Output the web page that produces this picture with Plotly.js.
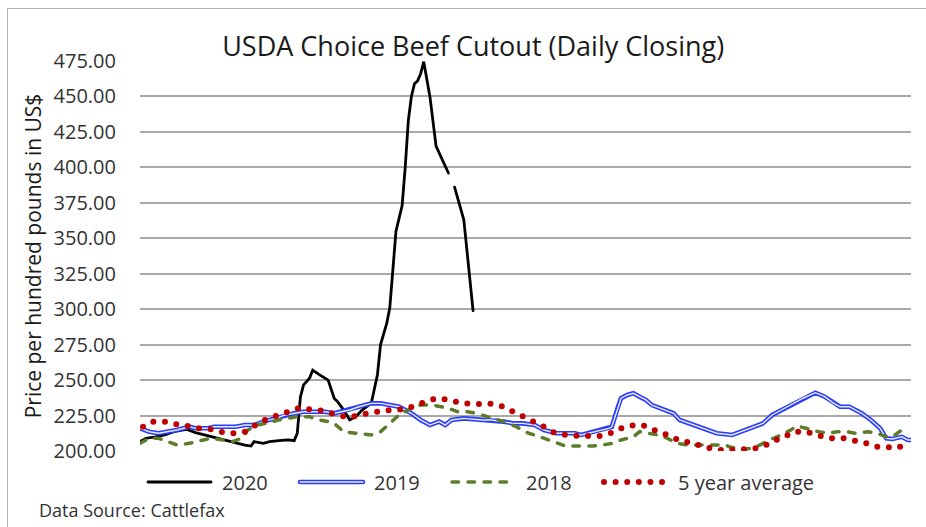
<!DOCTYPE html>
<html><head><meta charset="utf-8">
<script src="https://cdn.plot.ly/plotly-3.0.1.min.js"></script>
<style>
html,body{margin:0;padding:0;background:#fff;}
#wrap{position:relative;width:926px;height:527px;overflow:hidden;}
#chart{position:absolute;left:0;top:0;width:926px;height:527px;}
#frame{position:absolute;left:7px;top:8px;width:1000px;height:1000px;border:1.5px solid #b3b3b3;pointer-events:none;}
.scatterlayer path.js-line, .legendlines path {stroke-linecap: round !important;}
</style></head>
<body><div id="wrap"><div id="chart"></div><div id="frame"></div></div>
<script>
// Trading-day index within the year (x) and price (US$/cwt) per series
var days2020 = [0,2,5,8,11,15,18,21,24,28,31,34,36,37,40,42,45,48,50,51,52,53,55,56,58,60,61,63,64,66,68,70,72,75,76,77,78,79,80,81,82,83,84,85,86,87,88,89,90,91,92,93,94,96,98,100,101,102,105,108];
var vals2020 = [206.6,209,210,211.3,213.6,215.3,213,211.3,210,207.8,205.9,204.2,203.5,206.6,205.4,206.6,207.3,207.8,207.3,212.5,238,246.5,251.5,257,254,251.5,250,237,235,229,222,224.2,228.9,233.7,243,254,275,282,290,301,327,355,364,373,400,433,450,459,461,466,474.5,462,450,415,405,396,null,386,363,299];

var days2019 = [0,3,6,9,12,16,18,22,24,28,31,34,37,40,44,47,50,53,57,60,63,65,68,71,75,78,81,84,88,91,94,97,99,101,105,108,111,114,118,121,124,128,131,135,138,141,143,147,150,152,153,155,156,158,160,162,164,166,169,173,175,178,181,184,187,192,196,199,202,205,209,212,215,219,222,225,227,230,234,237,240,242,244,247,249,250];
var vals2019 = [216,213.6,212.5,213.6,214.8,217.1,216,216,217.1,217.1,217.1,218.3,218.3,220.7,223,225.4,226.6,227.7,227.7,227.7,226.6,227.7,228.9,231.2,233.6,233.6,232.4,231.2,226.6,221.9,218.3,220.7,218.3,221.9,223,222.4,221.9,221.9,220.7,219.5,219.5,218.3,214.8,212.5,212.5,212.5,211.3,213.6,214.8,216,217.1,231.2,237.2,239.5,240.7,238.3,236,232.4,230.1,226.6,221.9,219.5,217.1,214.8,212.5,211.3,214.8,217.1,219.5,225.4,230.1,233.6,237.2,241.1,238.3,233.6,231.2,231.2,226.6,221.9,216,208.9,208.5,210,207.8,207.8];

var days2018 = [0,3,6,9,12,16,20,23,27,30,33,35,38,42,45,48,51,55,57,61,63,66,70,75,78,81,84,88,91,95,100,103,106,109,113,118,122,126,128,131,135,138,142,147,150,153,156,160,162,165,168,171,174,178,181,185,190,191,195,198,201,204,208,211,213,216,220,223,226,229,232,236,239,242,244,247];
var vals2018 = [205.4,209,209,206.6,204.2,205.4,207.8,209,207.8,206.6,209,214.8,218.3,220,221.9,223,224.2,224.2,222.4,220.7,219.5,213.6,212.5,211.3,213.6,219.5,225.4,230.1,232.4,232.4,230.1,227.7,227.7,226.6,224.2,220.7,217.1,212.5,211.3,209,205.4,203.5,203.5,203.5,204.2,205.4,207.8,210,213.6,212.5,211.3,209,205.4,204.2,204.2,204.2,204.2,203,201.2,201.9,204.2,207.8,211.3,214.8,217.6,216,213.6,212.5,213.6,213.6,212.5,213.6,212.5,210,210,214.8];

var daysAvg = [1,4,8,11,15,19,23,26,30,34,38,41,45,48,52,56,59,63,68,71,75,79,82,86,90,94,97,101,105,109,113,117,120,124,127,131,134,138,142,146,149,153,157,161,164,168,172,175,179,183,186,190,194,198,202,205,209,212,216,220,223,228,231,235,239,242,246,249];
var valsAvg = [217.1,220.7,220.7,219,217.9,216,215.3,213.6,212.5,213.6,219,222.4,225.4,227.7,230.5,228.9,228.4,225.9,223.5,225.4,227.3,228.4,228.9,229.4,232.7,236,237.2,235.3,233.6,233.1,233.6,231.9,228.9,224.9,221.4,217.1,213.2,211.3,210.6,210,210.6,212.9,217.1,218.3,217.6,213.6,210.6,207.1,205.9,202.6,201.4,200.2,201.2,201.4,203,206.6,210,213.6,213.6,211.3,209,209,207.8,205.9,203,202.3,202.3,207.3];

var seriesNames = ['2020','2019','2018','5 year average'];
var yTicks = [200,225,250,275,300,325,350,375,400,425,450,475];
var yTickText = yTicks.map(function(v){ return v.toFixed(2); });

var FONT = 'Open Sans, Noto Sans, sans-serif';

var traces = [
  {x: days2020, y: vals2020, name: seriesNames[0], mode: 'lines', connectgaps: false,
   line: {color: '#000000', width: 2.8}},
  {x: days2019, y: vals2019, name: seriesNames[1], mode: 'lines',
   line: {color: '#2a3cf8', width: 4.6}},
  {x: days2019, y: vals2019, name: seriesNames[1] + ' inner', mode: 'lines', showlegend: false,
   line: {color: '#e6eaff', width: 1.4}},
  {x: days2018, y: vals2018, name: seriesNames[2], mode: 'lines',
   line: {color: '#5c7c2a', width: 3.5, dash: '6.5px,9.5px'}},
  {x: daysAvg, y: valsAvg, name: seriesNames[3], mode: 'lines', legendwidth: 160,
   line: {color: '#c00000', width: 6, dash: '0px,11.6px'}}
];

var layout = {
  width: 926, height: 527,
  paper_bgcolor: '#ffffff', plot_bgcolor: '#ffffff',
  margin: {l: 140, r: 15, t: 61, b: 76},
  font: {family: FONT, color: '#333333'},
  title: {text: 'USDA Choice Beef Cutout (Daily Closing)', font: {family: FONT, size: 27, color: '#1a1a1a'},
          x: 0.511, xanchor: 'center', xref: 'container', y: 0.912, yanchor: 'middle', yref: 'container'},
  showlegend: true,
  legend: {orientation: 'h', x: 0.0065, xanchor: 'left', y: -0.0795, yanchor: 'middle',
           font: {family: FONT, size: 20, color: '#333333'}, itemwidth: 67, entrywidth: 70,
           bgcolor: 'rgba(0,0,0,0)', traceorder: 'normal'},
  xaxis: {range: [0, 250], showgrid: false, zeroline: false, showticklabels: false, showline: false, ticks: ''},
  yaxis: {range: [200, 475], tickvals: yTicks, ticktext: yTickText, showgrid: true,
          gridcolor: '#a9a9a9', gridwidth: 2, zeroline: false, showline: false,
          ticks: 'outside', ticklen: 19, tickcolor: 'rgba(0,0,0,0)',
          tickfont: {family: FONT, size: 20, color: '#333333'},
          title: {text: 'Price per hundred pounds in US$', font: {family: FONT, size: 21, color: '#1a1a1a'}, standoff: 6}},
  annotations: [
    {text: 'Data Source: Cattlefax', xref: 'paper', yref: 'paper', x: -0.1336, y: -0.151,
     xanchor: 'left', yanchor: 'middle', showarrow: false, font: {family: FONT, size: 18, color: '#333333'}}
  ]
};

Plotly.newPlot('chart', traces, layout, {staticPlot: true, displayModeBar: false}).then(function(gd){
  var items = gd.querySelectorAll('.legend .traces');
  items.forEach(function(it){
    var p = it.querySelector('.legendlines path');
    if(!p) return;
    p.setAttribute('d', 'M3,0h63');
    var t = it.querySelector('text.legendtext');
    if(t && t.textContent === '2019'){
      var c = p.cloneNode(true);
      c.style.stroke = '#e6eaff';
      c.style.strokeWidth = '1.4px';
      p.parentNode.appendChild(c);
    }
  });
});
</script>
</body></html>
